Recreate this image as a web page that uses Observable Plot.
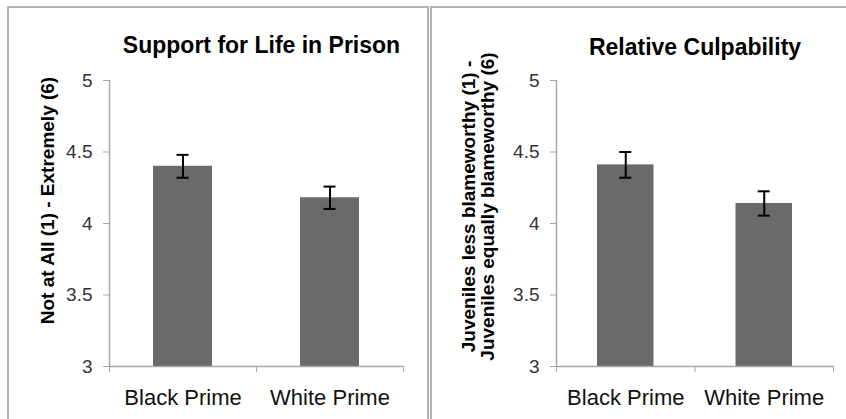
<!DOCTYPE html>
<html>
<head>
<meta charset="utf-8">
<script src="https://cdn.jsdelivr.net/npm/d3@7"></script>
<script src="https://cdn.jsdelivr.net/npm/@observablehq/plot@0.6"></script>
<style>
  html, body { margin: 0; padding: 0; background: #fff; }
  #wrap { position: relative; width: 846px; height: 419px; overflow: hidden; font-family: "Liberation Sans", Arial, sans-serif; }
  #wrap svg { position: absolute; top: 0; }
  .border { position: absolute; box-sizing: border-box; border: 2px solid #b4b4b4; border-bottom: none; }
</style>
</head>
<body>
<div id="wrap">
  <div class="border" style="left:7px; top:6px; width:422px; height:430px;"></div>
  <div class="border" style="left:430px; top:6px; width:430px; height:430px;"></div>
</div>
<script>
const categories = ["Black Prime", "White Prime"];
const lifeMeans = [4.40, 4.18];
const lifeErrors = [0.08, 0.078];
const culpMeans = [4.41, 4.14];
const culpErrors = [0.09, 0.085];
const yTicks = [3, 3.5, 4, 4.5, 5];

const FONT = "Liberation Sans, Arial, sans-serif";

function panel({means, errors, title, label, width, marginLeft, marginRight, inset, titleDx, titleDy, labelDx, labelDy, left}) {
  const rows = categories.map((c, i) => ({cat: c, i, mean: means[i], lo: means[i] - errors[i], hi: means[i] + errors[i]}));
  const chart = Plot.plot({
    width, height: 419,
    marginLeft, marginRight, marginTop: 80, marginBottom: 53,
    style: {fontFamily: FONT, background: "transparent", overflow: "visible"},
    x: {domain: [0, categories.length], axis: null},
    y: {domain: [3, 5], axis: null},
    marks: [
      Plot.rectY(rows, {x1: d => d.i, x2: d => d.i + 1, y1: 3, y2: "mean", fill: "#6a6a6a", insetLeft: inset, insetRight: inset}),
      Plot.ruleX(rows, {x: d => d.i + 0.5, y1: "lo", y2: "hi", stroke: "#000", strokeWidth: 2}),
      Plot.ruleY(rows, {y: "hi", x1: d => d.i + 0.5, x2: d => d.i + 0.5, insetLeft: -6, insetRight: -6, stroke: "#000", strokeWidth: 2}),
      Plot.ruleY(rows, {y: "lo", x1: d => d.i + 0.5, x2: d => d.i + 0.5, insetLeft: -6, insetRight: -6, stroke: "#000", strokeWidth: 2}),
      Plot.ruleX([0], {stroke: "#a8a8a8", strokeWidth: 1.5}),
      Plot.ruleY([3], {stroke: "#a8a8a8", strokeWidth: 1.5}),
      Plot.axisY({ticks: yTicks, tickFormat: d => String(d), tickSize: 6, tickPadding: 11, fontSize: 19, color: "#333", stroke: "#a8a8a8", label: null}),
      Plot.axisX({ticks: d3.range(categories.length + 1), tickFormat: () => "", tickSize: 6, stroke: "#a8a8a8", label: null}),
      Plot.axisX({ticks: categories.map((c, i) => i + 0.5), tickFormat: v => categories[Math.floor(v)], tickSize: 0, tickPadding: 23, fontSize: 22, color: "#111", label: null}),
      Plot.text([title], {text: d => d, frameAnchor: "top", dx: titleDx, dy: titleDy, fontSize: 23, fontWeight: "bold", fill: "#000", lineAnchor: "middle"}),
      Plot.text([label], {text: d => d, frameAnchor: "left", textAnchor: "middle", rotate: -90, dx: labelDx, dy: labelDy, fontSize: 19, fontWeight: "bold", fill: "#000", lineAnchor: "middle", lineHeight: 1.0})
    ]
  });
  chart.style.left = left + "px";
  document.getElementById("wrap").appendChild(chart);
}

panel({means: lifeMeans, errors: lifeErrors, title: "Support for Life in Prison",
  label: "Not at All (1) - Extremely (6)",
  width: 427, marginLeft: 109, marginRight: 24, inset: 44,
  titleDx: 5, titleDy: -35, labelDx: -62, labelDy: -23, left: 0});

panel({means: culpMeans, errors: culpErrors, title: "Relative Culpability",
  label: "Juveniles less blameworthy (1) -\nJuveniles equally blameworthy (6)",
  width: 419, marginLeft: 129, marginRight: 13, inset: 41,
  titleDx: 0, titleDy: -33, labelDx: -78.5, labelDy: -17, left: 427});
</script>
</body>
</html>
